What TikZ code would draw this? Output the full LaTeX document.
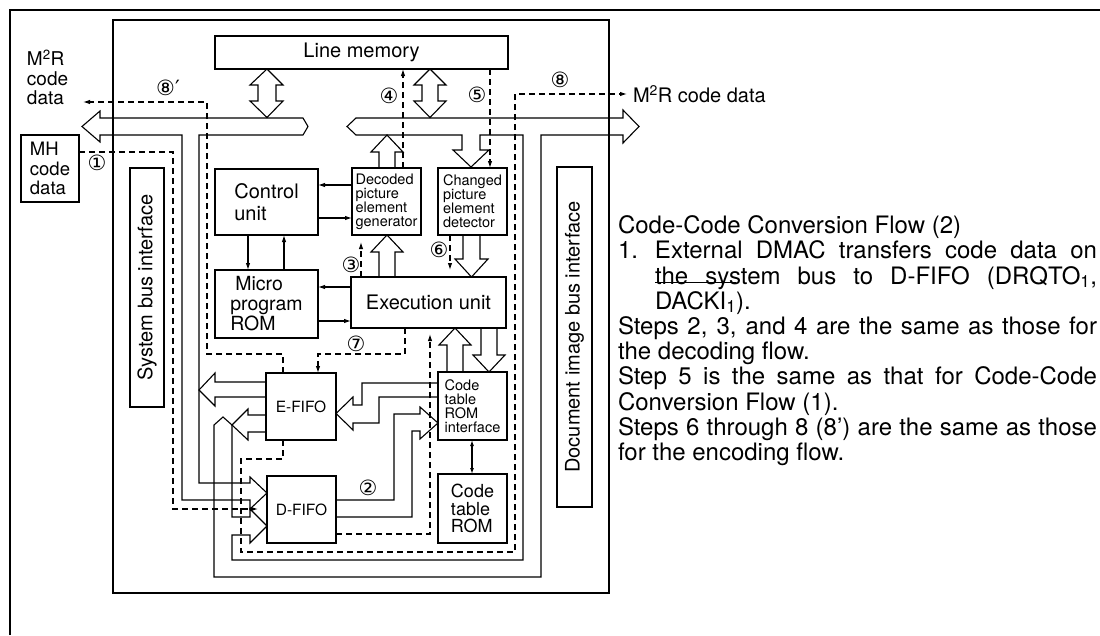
\documentclass[tikz,border=0pt]{standalone}
\usepackage{fontspec}
\setmainfont{TeX Gyre Heros}
\newfontfamily\circfont{DejaVu Sans}
\usetikzlibrary{arrows.meta}
\newcommand\fs[2]{\fontsize{#1}{#2}\selectfont}
\newcommand\ovl[1]{\setbox0=\hbox{#1}\rlap{\rule[1.45\ht0]{\wd0}{1.2pt}}\box0}
\begin{document}
\begin{tikzpicture}[x=1pt,y=-1pt,line width=1.1pt,
  every node/.style={inner sep=0pt,outer sep=0pt},
  blk/.style={draw,line width=1.4pt,anchor=north west,align=left},
  arr/.style={-{Latex[length=7pt,width=4.5pt]}},
  dsh/.style={dash pattern=on 6pt off 4pt},
  num/.style={font=\circfont\fs{21}{21}},
  txt/.style={anchor=base west,font=\fs{24}{25}}]
\useasboundingbox (0,0) rectangle (1100,635);
% frame and chip boundary
\draw[line width=2pt] (9.5,635) -- (9.5,9.5) -- (1100,9.5);
\draw (113,20) rectangle (609,593);
% blocks
\node[blk,minimum width=293,minimum height=33,font=\fs{20}{20}] (lm) at (215,36) {Line memory};
\node[blk,minimum width=103,minimum height=66,font=\fs{20}{22}] (cu) at (215,169) {Control\\unit};
\node[blk,minimum width=103,minimum height=68,font=\fs{19.5}{20}] (mr) at (215,270) {\hspace*{5pt}Micro\\program\\ROM};
\node[blk,minimum width=69,minimum height=67,font=\fs{14.5}{14}] (dg) at (352,168) {Decoded\\picture\\element\\generator};
\node[blk,minimum width=69,minimum height=67,font=\fs{14.5}{14}] (cd) at (438,168) {Changed\\picture\\element\\detector};
\node[blk,minimum width=155,minimum height=51,font=\fs{20}{20}] (ex) at (351,277) {Execution unit};
\node[blk,minimum width=70,minimum height=67,font=\fs{15.5}{16}] (ef) at (266,373) {E-FIFO};
\node[blk,minimum width=69,minimum height=67,font=\fs{15.5}{16}] (df) at (267,476) {D-FIFO};
\node[blk,minimum width=69,minimum height=68,font=\fs{14.5}{14.2}] (ci) at (438,372) {Code\\table\\ROM\\interface};
\node[blk,minimum width=69,minimum height=69,font=\fs{18}{17.5}] (ct) at (438,474) {Code\\table\\ROM};
\node[blk,minimum width=34,minimum height=239] (sb) at (130,168) {};
\node[rotate=90,font=\fs{20}{20}] (sbt) at (sb.center) {System bus interface};
\node[blk,minimum width=35,minimum height=340] (db) at (557,167) {};
\node[rotate=90,font=\fs{20}{20}] (dbt) at (db.center) {Document image bus interface};
\node[blk,minimum width=58,minimum height=67,font=\fs{18.5}{19.5}] (mh) at (21,135) {MH\\code\\data};
% outside labels
\node[font=\fs{19}{19.5},align=left,anchor=north west] (m2l) at (27,50) {M\textsuperscript{2}R\\code\\data};
\node[font=\fs{20}{20},anchor=west] (m2r) at (633,94) {M\textsuperscript{2}R code data};
% system bus
\draw (82,126.5) -- (100,111) -- (100,118) -- (303,118) -- (308,126.5) -- (303,135) -- (199,135) -- (199,483) -- (250,483) -- (250,477) -- (267,493) -- (250,509) -- (250,500) -- (182,500) -- (182,135) -- (100,135) -- (100,142) -- cycle;
% document image bus
\draw (347,126.5) -- (356,118) -- (623,118) -- (623,110) -- (639,126.5) -- (623,143) -- (623,135) -- (541,135) -- (541,577) -- (214,577) -- (214,425) -- (223,417) -- (232,425) -- (232,517) -- (250,517) -- (250,509) -- (267,526) -- (250,543) -- (250,535) -- (232,535) -- (232,560) -- (523,560) -- (523,135) -- (480,135) -- (480,150) -- (489,150) -- (471,167) -- (453,150) -- (462,150) -- (462,135) -- (356,135) -- cycle;
% line memory double arrows
\draw (267,69) -- (283,85) -- (276,85) -- (276,101) -- (283,101) -- (267,117.5) -- (250,101) -- (258,101) -- (258,85) -- (250,85) -- cycle;
\draw (430,69) -- (446,85) -- (438,85) -- (438,101) -- (446,101) -- (430,117.5) -- (414,101) -- (422,101) -- (422,85) -- (414,85) -- cycle;
% wide arrows
\draw (379,168) -- (379,152) -- (371,152) -- (387,135) -- (403,152) -- (395,152) -- (395,168);
\draw (379,277) -- (379,252) -- (371,252) -- (387,235) -- (403,252) -- (395,252) -- (395,277);
\draw (463,235) -- (463,259) -- (455,259) -- (471.5,277) -- (488,259) -- (480,259) -- (480,235);
\draw (447,372) -- (447,345) -- (439,345) -- (455,328) -- (471,345) -- (463,345) -- (463,372);
\draw (481,328) -- (481,355) -- (473,355) -- (489,372) -- (505,355) -- (497,355) -- (497,328);
\draw (266,382) -- (215,382) -- (215,373) -- (199,390) -- (215,406) -- (215,397) -- (266,397);
\draw (266,415) -- (248,415) -- (248,409) -- (232,425) -- (248,440) -- (248,432) -- (266,432);
\draw (438,383) -- (362,383) -- (362,405) -- (353,405) -- (353,397) -- (336,413.5) -- (353,430) -- (353,423) -- (379,423) -- (379,397) -- (438,397);
\draw (336,500) -- (394,500) -- (394,414) -- (420,414) -- (420,407) -- (438,423) -- (420,439) -- (420,431) -- (412,431) -- (412,517) -- (336,517);
% thin arrows
\draw[{Latex[length=6pt,width=4pt]}-{Latex[length=6pt,width=4pt]}] (ci.south -| 472,0) -- (ct.north -| 472,0);
\draw[arr] (dg.west |- 0,185) -- (cu.east |- 0,185);
\draw[arr] (cu.east |- 0,218) -- (dg.west |- 0,218);
\draw[arr] (cu.south -| 248,0) -- (mr.north -| 248,0);
\draw[arr] (mr.north -| 284,0) -- (cu.south -| 284,0);
\draw[arr] (ex.west |- 0,287) -- (mr.east |- 0,287);
\draw[arr] (mr.east |- 0,321) -- (ex.west |- 0,321);
% dashed flows
\draw[dsh,arr] (mh.east |- 0,152) -- (173,152) -- (173,509) -- (258,509);
\draw[dsh,arr] (ef.north -| 283,0) -- (283,354) -- (207,354) -- (207,102) -- (83,102);
\draw[dsh,arr] (ef.south -| 283,0) -- (283,459) -- (241,459) -- (241,552) -- (515,552) -- (515,94) -- (627,94);
\draw[dsh,arr] (ex.south -| 405,0) -- (405,354) -- (318,354) -- (ef.north -| 318,0);
\draw[dsh,arr] (ex.north -| 361,0) -- (361,242);
\draw[dsh,arr] (dg.north -| 403,0) -- (lm.south -| 403,0);
\draw[dsh,arr] (lm.south -| 490,0) -- (cd.north -| 490,0);
\draw[dsh,arr] (cd.south -| 450,0) -- (450,270);
\draw[dsh,arr] (df.east |- 0,534) -- (430,534) -- (430,334);
% step numbers
\node[num] (n1) at (97,163) {①};
\node[num] (n2) at (368,488) {②};
\node[num] (n3) at (351,265) {③};
\node[num] (n4) at (389,96) {④};
\node[num] (n5) at (477,95) {⑤};
\node[num] (n6) at (439,250) {⑥};
\node[num] (n7) at (356,344) {⑦};
\node[num] (n8) at (560,80) {⑧};
\node[num] (n8p) at (168,88) {⑧′};
% description
\node[txt] (t0) at (618,233.6) {Code-Code Conversion Flow (2)};
\node[txt] (t1) at (618,258.8) {\makebox[37pt][l]{1.}\makebox[442pt][s]{External DMAC transfers code data on}};
\node[txt] (t2) at (655,284) {\makebox[442pt][s]{the system bus to D-FIFO (DRQTO\textsubscript{1},}};
\node[txt] (t3) at (655,309.2) {\ovl{DACKI\textsubscript{1}}).};
\node[txt] (t4) at (618,334.4) {\makebox[479pt][s]{Steps 2, 3, and 4 are the same as those for}};
\node[txt] (t5) at (618,359.6) {the decoding flow.};
\node[txt] (t6) at (618,384.8) {\makebox[479pt][s]{Step 5 is the same as that for Code-Code}};
\node[txt] (t7) at (618,410) {Conversion Flow (1).};
\node[txt] (t8) at (618,435.2) {\makebox[479pt][s]{Steps 6 through 8 (8') are the same as those}};
\node[txt] (t9) at (618,460.4) {for the encoding flow.};
\end{tikzpicture}
\end{document}
